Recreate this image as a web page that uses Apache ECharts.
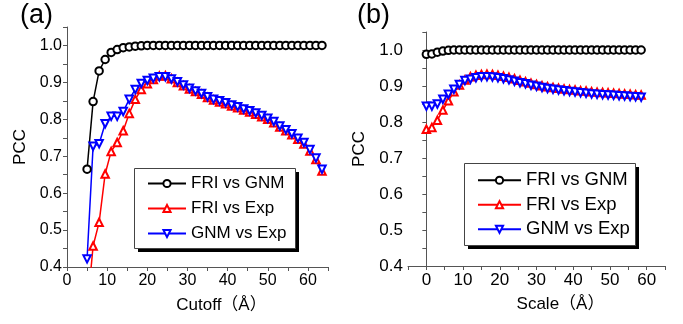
<!DOCTYPE html>
<html>
<head>
<meta charset="utf-8">
<script src="https://cdn.jsdelivr.net/npm/echarts@6/dist/echarts.min.js"></script>
<style>
  html, body { margin: 0; padding: 0; background: #fff; }
  #chart { width: 683px; height: 324px; }
</style>
</head>
<body>
<div id="chart"></div>
<script>
// panel (a): PCC vs cutoff
const cutoff = [5, 6.5, 8, 9.5, 11, 12.5, 14, 15.5, 17, 18.5, 20, 21.5, 23, 24.5, 26, 27.5, 29, 30.5, 32, 33.5,
	35, 36.5, 38, 39.5, 41, 42.5, 44, 45.5, 47, 48.5, 50, 51.5, 53, 54.5, 56, 57.5, 59, 60.5, 62, 63.5];
const friGnmA = [0.665, 0.848, 0.931, 0.962, 0.981, 0.989, 0.994, 0.996, 0.998, 0.999, 1, 1, 1, 1, 1, 1, 1, 1, 1, 1,
	1, 1, 1, 1, 1, 1, 1, 1, 1, 1, 1, 1, 1, 1, 1, 1, 1, 1, 1, 1];
const friExpA = [0.28, 0.457, 0.521, 0.652, 0.713, 0.737, 0.769, 0.816, 0.854, 0.881, 0.896, 0.908, 0.917, 0.918, 0.910, 0.900, 0.891, 0.882, 0.875, 0.868,
	0.859, 0.852, 0.847, 0.842, 0.836, 0.831, 0.825, 0.820, 0.814, 0.807, 0.800, 0.791, 0.779, 0.769, 0.758, 0.746, 0.733, 0.714, 0.691, 0.660];
const gnmExpA = [0.422, 0.727, 0.734, 0.788, 0.808, 0.808, 0.821, 0.854, 0.881, 0.897, 0.905, 0.911, 0.915, 0.915, 0.909, 0.902, 0.893, 0.884, 0.877, 0.870,
	0.861, 0.854, 0.850, 0.845, 0.839, 0.834, 0.828, 0.823, 0.817, 0.810, 0.803, 0.794, 0.782, 0.772, 0.761, 0.749, 0.737, 0.718, 0.695, 0.665];

// panel (b): PCC vs scale
const scale = [0, 1.5, 3, 4.5, 6, 7.5, 9, 10.5, 12, 13.5, 15, 16.5, 18, 19.5, 21, 22.5, 24, 25.5, 27, 28.5,
	30, 31.5, 33, 34.5, 36, 37.5, 39, 40.5, 42, 43.5, 45, 46.5, 48, 49.5, 51, 52.5, 54, 55.5, 57, 58.5];
const friGnmB = [0.988, 0.989, 0.994, 0.997, 0.999, 1, 1, 1, 1, 1, 1, 1, 1, 1, 1, 1, 1, 1, 1, 1,
	1, 1, 1, 1, 1, 1, 1, 1, 1, 1, 1, 1, 1, 1, 1, 1, 1, 1, 1, 1];
const friExpB = [0.780, 0.785, 0.805, 0.833, 0.859, 0.884, 0.903, 0.917, 0.926, 0.930, 0.932, 0.933, 0.932, 0.930, 0.927, 0.924, 0.920, 0.916, 0.912, 0.908,
	0.904, 0.901, 0.898, 0.896, 0.894, 0.892, 0.890, 0.889, 0.887, 0.886, 0.884, 0.883, 0.882, 0.881, 0.880, 0.879, 0.878, 0.877, 0.876, 0.875];
const gnmExpB = [0.844, 0.844, 0.850, 0.863, 0.877, 0.891, 0.904, 0.915, 0.919, 0.923, 0.926, 0.926, 0.925, 0.923, 0.920, 0.917, 0.913, 0.909, 0.906, 0.902,
	0.899, 0.896, 0.893, 0.891, 0.889, 0.887, 0.885, 0.883, 0.881, 0.880, 0.878, 0.877, 0.876, 0.875, 0.874, 0.873, 0.872, 0.871, 0.870, 0.869];

const seriesNames = ["FRI vs GNM", "FRI vs Exp", "GNM vs Exp"];
const FONT = "'Liberation Sans', Arial, 'Noto Sans CJK SC', sans-serif";
const AXIS_COLOR = "#555";

const pairs = (xs, ys) => xs.map((x, i) => [x, ys[i]]);

function xAxisFor(gridIndex, min, name, fontSize) {
	return {
		type: "value", gridIndex, min, max: 65, interval: 5,
		name, nameLocation: "middle", nameGap: 30,
		nameTextStyle: { fontSize: 17, color: "#000", fontFamily: FONT, padding: [0, 0, 0, 48] },
		axisLine: { lineStyle: { color: AXIS_COLOR, width: 1 } },
		axisTick: { inside: false, length: 4, lineStyle: { color: AXIS_COLOR } },
		axisLabel: {
			fontSize, color: "#000", fontFamily: FONT, margin: 6,
			formatter: (v) => (Math.round(v) % 10 === 0 ? String(Math.round(v)) : ""),
		},
		splitLine: { show: false },
	};
}

function yAxisFor(gridIndex, fontSize, nameGap) {
	return {
		type: "value", gridIndex, min: 0.4, max: 1.05, interval: 0.05,
		name: "PCC", nameLocation: "middle", nameGap,
		nameTextStyle: { fontSize: 17, color: "#000", fontFamily: FONT },
		axisLine: { show: true, lineStyle: { color: AXIS_COLOR, width: 1 } },
		axisTick: { inside: false, length: 4, lineStyle: { color: AXIS_COLOR } },
		axisLabel: {
			fontSize, color: "#000", fontFamily: FONT, margin: 5,
			formatter: (v) => (Math.round(v * 100) % 10 === 0 ? v.toFixed(1) : ""),
		},
		splitLine: { show: false },
	};
}

function lineSeries(name, idx, data, color, symbol, rotate) {
	return {
		name, type: "line", xAxisIndex: idx, yAxisIndex: idx, data,
		symbol, symbolSize: 7.5, symbolRotate: rotate || 0,
		lineStyle: { color, width: 1.5 },
		itemStyle: { color, borderWidth: 1.5 },
		clip: true,
		animation: false,
	};
}

function legendFor(left, top, itemWidth, fontSize, itemGap) {
	return {
		orient: "vertical", left, top, data: seriesNames,
		itemWidth, itemHeight: 9, itemGap, padding: 0,
		selectedMode: false, z: 6,
		textStyle: { fontSize, color: "#000", fontFamily: FONT },
	};
}

// legend frame with a hard drop shadow, like the original plot
function legendBox(x, y, w, h) {
	return [
		{ type: "rect", z: 3, silent: true, shape: { x: x + 4, y: y + 4, width: w, height: h }, style: { fill: "#000" } },
		{ type: "rect", z: 4, silent: true, shape: { x: x + 0.5, y: y + 0.5, width: w, height: h }, style: { fill: "#fff", stroke: "#444", lineWidth: 1 } },
	];
}

const chart = echarts.init(document.getElementById("chart"));
chart.setOption({
	backgroundColor: "#fff",
	animation: false,
	title: [
		{ text: "(a)", left: 20, top: 2, padding: 0, textStyle: { fontSize: 27, fontWeight: "normal", color: "#000", fontFamily: FONT } },
		{ text: "(b)", left: 357, top: 2, padding: 0, textStyle: { fontSize: 27, fontWeight: "normal", color: "#000", fontFamily: FONT } },
	],
	grid: [
		{ left: 67, top: 27, width: 261, height: 240 },
		{ left: 408, top: 32, width: 257, height: 234 },
	],
	xAxis: [xAxisFor(0, 0, "Cutoff（Å）", 16), xAxisFor(1, -5, "Scale（Å）", 17)],
	yAxis: [yAxisFor(0, 16, 38), yAxisFor(1, 17, 40)],
	graphic: [...legendBox(134, 168, 161, 80), ...legendBox(464, 163, 171, 82)],
	legend: [
		legendFor(147, 175, 38, 17, 8),
		legendFor(477, 171, 43, 18.5, 6),
	],
	series: [
		lineSeries("FRI vs GNM", 0, pairs(cutoff, friGnmA), "#000", "emptyCircle"),
		lineSeries("FRI vs Exp", 0, pairs(cutoff, friExpA), "#ff0000", "emptyTriangle"),
		lineSeries("GNM vs Exp", 0, pairs(cutoff, gnmExpA), "#0000ff", "emptyTriangle", 180),
		lineSeries("FRI vs GNM", 1, pairs(scale, friGnmB), "#000", "emptyCircle"),
		lineSeries("FRI vs Exp", 1, pairs(scale, friExpB), "#ff0000", "emptyTriangle"),
		lineSeries("GNM vs Exp", 1, pairs(scale, gnmExpB), "#0000ff", "emptyTriangle", 180),
	],
});
</script>
</body>
</html>
